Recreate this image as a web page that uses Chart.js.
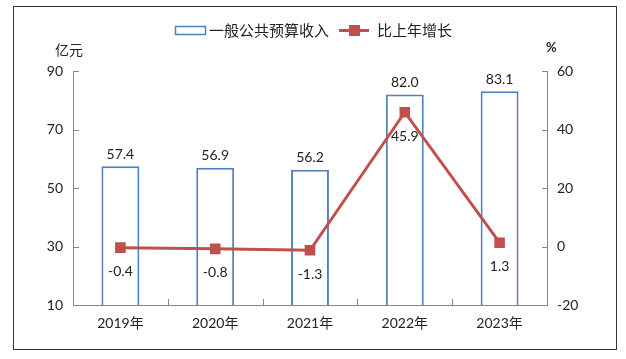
<!DOCTYPE html>
<html>
<head>
<meta charset="utf-8">
<script src="https://cdn.jsdelivr.net/npm/chart.js@4"></script>
<style>
  body { margin: 0; background: #fff; }
  canvas { display: block; }
</style>
</head>
<body>
<canvas id="revenueChart" width="626" height="359"></canvas>
<script>
var years = ['2019年', '2020年', '2021年', '2022年', '2023年'];
var revenue = [57.4, 56.9, 56.2, 82.0, 83.1];
var growth = [-0.4, -0.8, -1.3, 45.9, 1.3];
var leftTicks = [10, 30, 50, 70, 90];
var rightTicks = [-20, 0, 20, 40, 60];

var FONT = 'Lato, "Noto Sans CJK SC", sans-serif';
var CJK = '"Noto Sans CJK SC", sans-serif';
var BLUE = '#4F81BD';
var RED = '#C0504D';
var AXIS = '#868686';

// frame, hand drawn axes, inner ticks, legend and value labels
var decorPlugin = {
    id: 'decor',
    afterDraw: (chart) => {
        var ctx = chart.ctx;
        var area = chart.chartArea;
        var y = chart.scales.y;
        var y1 = chart.scales.y1;
        ctx.save();

        ctx.strokeStyle = '#333';
        ctx.lineWidth = 1;
        ctx.strokeRect(13.5, 6.5, 603, 343);

        ctx.strokeStyle = AXIS;
        ctx.beginPath();
        ctx.moveTo(area.left + 0.5, area.top);
        ctx.lineTo(area.left + 0.5, area.bottom + 0.5);
        ctx.lineTo(area.right + 0.5, area.bottom + 0.5);
        ctx.lineTo(area.right + 0.5, area.top);
        leftTicks.forEach((v) => {
            var py = Math.round(y.getPixelForValue(v)) + 0.5;
            ctx.moveTo(area.left, py);
            ctx.lineTo(area.left + 6, py);
        });
        rightTicks.forEach((v) => {
            var py = Math.round(y1.getPixelForValue(v)) + 0.5;
            ctx.moveTo(area.right - 5, py);
            ctx.lineTo(area.right + 1, py);
        });
        var step = (area.right - area.left) / years.length;
        for (let i = 1; i < years.length; i++) {
            var px = Math.round(area.left + step * i) + 0.5;
            ctx.moveTo(px, area.bottom);
            ctx.lineTo(px, area.bottom - 6);
        }
        ctx.stroke();

        // unit titles
        ctx.fillStyle = '#222';
        ctx.font = '14px ' + CJK;
        ctx.textAlign = 'left';
        ctx.textBaseline = 'middle';
        ctx.fillText('亿元', 55, 50);
        ctx.font = 'bold 13px ' + FONT;
        ctx.fillText('%', 546, 48);

        // legend
        ctx.strokeStyle = BLUE;
        ctx.lineWidth = 1.5;
        ctx.strokeRect(175.5, 26.5, 30, 8);
        ctx.font = '15px ' + CJK;
        ctx.fillStyle = '#222';
        ctx.fillText('一般公共预算收入', 209, 30);
        ctx.strokeStyle = RED;
        ctx.lineWidth = 3;
        ctx.beginPath();
        ctx.moveTo(339, 30.5);
        ctx.lineTo(369, 30.5);
        ctx.stroke();
        ctx.fillStyle = RED;
        ctx.fillRect(349, 25, 11, 11);
        ctx.fillStyle = '#222';
        ctx.fillText('比上年增长', 377, 30);

        // value labels
        ctx.font = '14px ' + FONT;
        ctx.textAlign = 'center';
        var lineMeta = chart.getDatasetMeta(0);
        var barMeta = chart.getDatasetMeta(1);
        barMeta.data.forEach((bar, i) => {
            ctx.fillText(revenue[i].toFixed(1), bar.x, bar.y - 12);
        });
        lineMeta.data.forEach((pt, i) => {
            ctx.fillText(growth[i].toFixed(1), pt.x, pt.y + 24);
        });
        ctx.restore();
    }
};

var ctx = document.getElementById('revenueChart').getContext('2d');
var myChart = new Chart(ctx, {
    data: {
        labels: years,
        datasets: [{
            type: 'line',
            label: '比上年增长',
            data: growth,
            yAxisID: 'y1',
            borderColor: RED,
            backgroundColor: RED,
            borderWidth: 3,
            pointStyle: 'rect',
            pointRadius: 7.5,
            pointBorderWidth: 0,
            tension: 0,
            order: 0
        }, {
            type: 'bar',
            label: '一般公共预算收入',
            data: revenue,
            yAxisID: 'y',
            backgroundColor: '#fff',
            borderColor: BLUE,
            borderWidth: 2,
            barPercentage: 0.4,
            categoryPercentage: 1,
            order: 1
        }]
    },
    options: {
        responsive: false,
        animation: false,
        layout: { padding: { left: 13, right: 13, top: 71, bottom: 9 } },
        plugins: {
            legend: { display: false },
            tooltip: { enabled: false }
        },
        scales: {
            x: {
                offset: true,
                grid: { display: false, drawTicks: false },
                border: { display: false },
                ticks: { color: '#222', font: { family: FONT, size: 14 }, padding: 10 },
                afterFit: (scale) => { scale.height = 45; }
            },
            y: {
                position: 'left',
                min: 10,
                max: 90,
                grid: { display: false, drawTicks: false },
                border: { display: false },
                ticks: { stepSize: 20, color: '#222', font: { family: FONT, size: 14 }, padding: 10 },
                afterFit: (scale) => { scale.width = 60; }
            },
            y1: {
                position: 'right',
                min: -20,
                max: 60,
                grid: { display: false, drawTicks: false },
                border: { display: false },
                ticks: { stepSize: 20, color: '#222', font: { family: FONT, size: 14 }, padding: 10 },
                afterFit: (scale) => { scale.width = 66; }
            }
        }
    },
    plugins: [decorPlugin]
});
</script>
</body>
</html>
